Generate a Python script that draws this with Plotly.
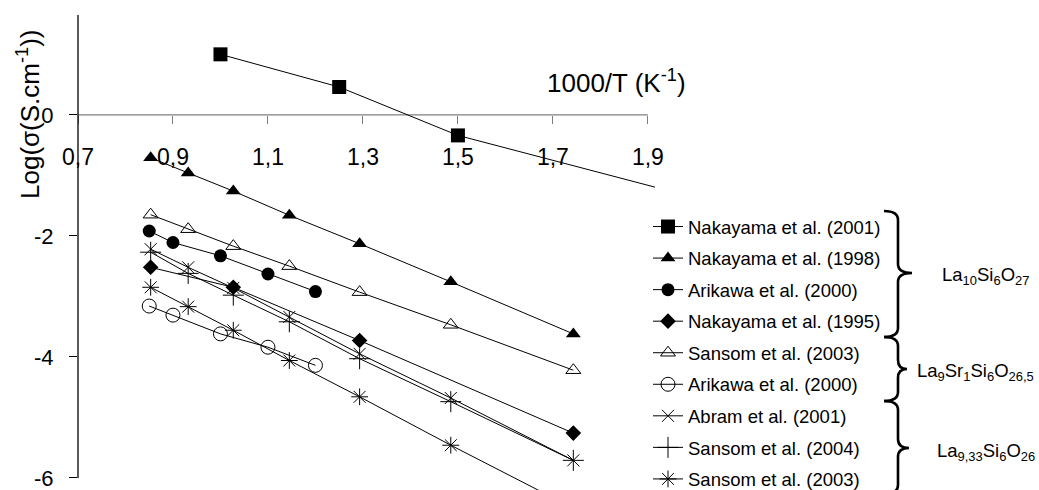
import plotly.graph_objects as go

# ---------------- data ----------------
temps_x = [0.853, 0.932, 1.027, 1.145, 1.293, 1.485, 1.743]
arikawa_x = [0.85, 0.90, 1.00, 1.10, 1.20]
nak1995_x = [0.853, 1.027, 1.293, 1.743]
nak2001_x = [1.00, 1.25, 1.50, 2.00]

nak2001_y = [1.00, 0.46, -0.34, -1.37]
nak1998_y = [-0.71, -0.96, -1.26, -1.66, -2.13, -2.76, -3.62]
arikawa2000_y = [-1.92, -2.11, -2.33, -2.63, -2.92]
nak1995_y = [-2.52, -2.85, -3.73, -5.26]
sansom2003_sr_y = [-1.65, -1.89, -2.17, -2.50, -2.93, -3.47, -4.22]
arikawa2000_sr_y = [-3.16, -3.31, -3.62, -3.84, -4.14]
abram2001_y = [-2.22, -2.52, -2.86, -3.34, -3.95, -4.68, -5.71]
sansom2004_y = [-2.27, -2.62, -2.98, -3.42, -4.03, -4.74, -5.71]
sansom2003_y = [-2.85, -3.17, -3.56, -4.06, -4.66, -5.46, -6.50]

series_names = [
    "Nakayama et al. (2001)", "Nakayama et al. (1998)", "Arikawa et al. (2000)",
    "Nakayama et al. (1995)", "Sansom et al. (2003)", "Arikawa et al. (2000)",
    "Abram et al. (2001)", "Sansom et al. (2004)", "Sansom et al. (2003)",
]
series_x = [nak2001_x, temps_x, arikawa_x, nak1995_x, temps_x, arikawa_x,
            temps_x, temps_x, temps_x]
series_y = [nak2001_y, nak1998_y, arikawa2000_y, nak1995_y, sansom2003_sr_y,
            arikawa2000_sr_y, abram2001_y, sansom2004_y, sansom2003_y]

x_tickvals = [0.7, 0.9, 1.1, 1.3, 1.5, 1.7, 1.9]
x_ticktext = ["0,7", "0,9", "1,1", "1,3", "1,5", "1,7", "1,9"]
y_tickvals = [0, -2, -4, -6]
y_ticktext = ["0", "-2", "-4", "-6"]

group_labels = ["La<sub>10</sub>Si<sub>6</sub>O<sub>27</sub>",
                "La<sub>9</sub>Sr<sub>1</sub>Si<sub>6</sub>O<sub>26,5</sub>",
                "La<sub>9,33</sub>Si<sub>6</sub>O<sub>26</sub>"]

# ---------------- styling ----------------
FONT = "Liberation Sans, Arial, sans-serif"
W, H = 1039, 490
ML, MR, MT, MB = 78, 384, 15, 0
X_RANGE = [0.7, 1.915]
Y_RANGE = [-6.2, 1.65]
PW, PH = W - ML - MR, H - MT - MB


def pxx(px):
    return (px - ML) / PW


def pxy(py):
    return (H - MB - py) / PH


marker_styles = [
    dict(symbol="square", size=14, color="black"),
    dict(symbol="triangle-up", size=13, color="black"),
    dict(symbol="circle", size=13, color="black"),
    dict(symbol="diamond", size=12, color="black"),
    dict(symbol="triangle-up-open", size=13, color="black", line=dict(width=1, color="black")),
    dict(symbol="circle-open", size=14, color="black", line=dict(width=1, color="black")),
    dict(symbol="x-thin-open", size=12, color="black", line=dict(width=1, color="black")),
    dict(symbol="cross-thin-open", size=15, color="black", line=dict(width=1, color="black")),
    dict(symbol="asterisk-open", size=14, color="black", line=dict(width=1, color="black")),
]

fig = go.Figure()
for i, (name, xs, ys, ms) in enumerate(zip(series_names, series_x, series_y, marker_styles)):
    fig.add_trace(go.Scatter(
        x=xs, y=ys, name=name, mode="lines+markers",
        line=dict(color="black", width=1), marker=ms,
        legendgroup=f"g{i}",
    ))

y0_frac = (0 - Y_RANGE[0]) / (Y_RANGE[1] - Y_RANGE[0])

fig.update_layout(
    width=W, height=H, autosize=False,
    margin=dict(l=ML, r=MR, t=MT, b=MB, pad=0, autoexpand=False),
    paper_bgcolor="white", plot_bgcolor="white",
    font=dict(family=FONT, color="black"),
    showlegend=True,
    legend=dict(
        x=pxx(648), y=pxy(208), xanchor="left", yanchor="top",
        font=dict(family=FONT, size=18.5, color="black"),
        traceorder="grouped", tracegroupgap=4.5,
        bgcolor="rgba(0,0,0,0)", borderwidth=0,
    ),
    xaxis=dict(
        range=X_RANGE, anchor="free", position=y0_frac, side="bottom",
        showgrid=False, zeroline=False, showline=False,
        tickvals=x_tickvals, ticktext=x_ticktext,
        ticks="outside", ticklen=8, tickcolor="#808080", tickwidth=1,
        tickfont=dict(family=FONT, size=23, color="black"),
        ticklabelstandoff=14, ticklabeloverflow="allow",
    ),
    yaxis=dict(
        range=Y_RANGE, showgrid=False, zeroline=False, showline=False,
        tickvals=y_tickvals, ticktext=y_ticktext,
        ticks="outside", ticklen=8, tickcolor="black", tickwidth=1,
        tickfont=dict(family=FONT, size=22, color="black"),
        ticklabelstandoff=11, ticklabeloverflow="allow",
    ),
)

# axis lines (x axis crosses at y = 0 and stops at 1.9; y axis stops at -6)
fig.add_shape(type="line", xref="x", yref="y", x0=X_RANGE[0], x1=x_tickvals[-1], y0=0, y1=0,
              line=dict(color="#808080", width=1.3), layer="below")
fig.add_shape(type="line", xref="paper", yref="paper", x0=0, x1=0,
              y0=(y_tickvals[-1] - Y_RANGE[0]) / (Y_RANGE[1] - Y_RANGE[0]), y1=1,
              line=dict(color="black", width=1.3))

# axis titles
fig.add_annotation(x=pxx(616), y=pxy(82), xref="paper", yref="paper",
                   text="1000/T (K<sup>-1</sup>)", showarrow=False,
                   xanchor="center", yanchor="middle",
                   font=dict(family=FONT, size=26, color="black"))
fig.add_annotation(x=pxx(28), y=pxy(115), xref="paper", yref="paper",
                   text="Log(σ(S.cm<sup>-1</sup>))", textangle=-90, showarrow=False,
                   xanchor="center", yanchor="middle",
                   font=dict(family=FONT, size=26, color="black"))


# curly braces
def brace(y_top, y_bot, y_tip, x_hook=884, x_vert=898, x_tip=912, r=9):
    pts = [
        ("M", [(x_hook, y_top)]),
        ("Q", [(x_vert, y_top), (x_vert, y_top + r)]),
        ("L", [(x_vert, y_tip - r)]),
        ("Q", [(x_vert, y_tip), (x_tip, y_tip)]),
        ("Q", [(x_vert, y_tip), (x_vert, y_tip + r)]),
        ("L", [(x_vert, y_bot - r)]),
        ("Q", [(x_vert, y_bot), (x_hook, y_bot)]),
    ]
    s = ""
    for cmd, ps in pts:
        s += cmd + " " + " ".join(f"{pxx(a):.5f},{pxy(b):.5f}" for a, b in ps) + " "
    return s.strip()


braces = [(211, 337, 273, 912), (337, 401, 369, 907), (401, 494, 448, 909)]
for (yt, yb, ym, xt) in braces:
    fig.add_shape(type="path", xref="paper", yref="paper",
                  path=brace(yt, yb, ym, x_tip=xt),
                  line=dict(color="black", width=2.6))

label_pos = [(940, 276), (915, 372), (935, 452)]
for txt, (lx, ly) in zip(group_labels, label_pos):
    fig.add_annotation(x=pxx(lx), y=pxy(ly), xref="paper", yref="paper",
                       text=txt, showarrow=False, xanchor="left", yanchor="middle",
                       font=dict(family=FONT, size=18.5, color="black"))

fig.write_html(
    "out.html",
    config={"displayModeBar": False},
    post_script="document.body.style.margin='0';document.body.style.padding='0';"
                "document.body.style.overflow='hidden';",
)
